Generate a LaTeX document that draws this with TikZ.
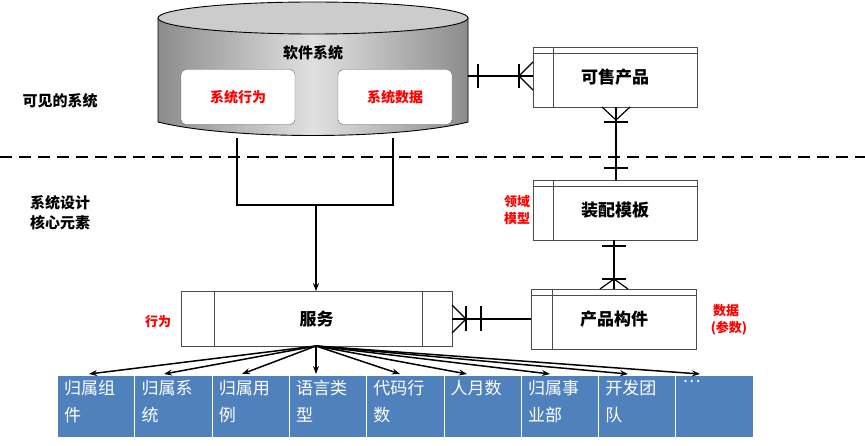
\documentclass[tikz,border=0pt]{standalone}
\usepackage{fontspec}
\setmainfont{Noto Sans CJK SC}
\newfontfamily\cjkb{Noto Sans CJK SC Black}
\usetikzlibrary{arrows.meta}
\definecolor{cb}{RGB}{79,129,189}
\begin{document}
\begin{tikzpicture}[x=1pt,y=-1pt,
  ent/.style={draw=black!70,line width=0.9pt,fill=white,minimum height=60pt,font=\cjkb\fontsize{17}{17}\selectfont},
  inner/.style={draw=black!60,rounded corners=5pt,fill=white,minimum width=114pt,minimum height=55pt,text=red,font=\cjkb\fontsize{14}{14}\selectfont},
  lab/.style={font=\cjkb\fontsize{15}{20}\selectfont,align=center},
  rlab/.style={text=red,font=\cjkb\fontsize{13}{17}\selectfont,align=center},
  cell/.style={fill=cb,draw=white,line width=0.6pt,minimum width=77.3pt,minimum height=62pt,anchor=north west,inner sep=0pt},
  ctext/.style={text=white,font=\fontsize{17}{27}\selectfont,align=left,anchor=north west,inner sep=0pt},
  rel/.style={line width=1.2pt},
  arr/.style={line width=1.5pt,-{Stealth[length=8pt]}}]
\useasboundingbox (0,0) rectangle (865,446);
% cylinder
\path[left color=black!45,right color=black!45,middle color=black!12,draw=black,line width=0.9pt]
 (158,18) -- (158,122) .. controls (230,140) and (396,140) .. (468,122) -- (468,18) -- cycle;
\draw[fill=black!20,line width=0.9pt] (313,18) ellipse[x radius=155,y radius=16];
\node[lab] (sys) at (313,53) {软件系统};
\node[inner] (beh) at (238,97) {系统行为};
\node[inner] (dat) at (395,97) {系统数据};
\coordinate (cyl) at (468,76);
% dashed line
\draw[dash pattern=on 12pt off 7pt,line width=2pt] (0,157) -- (865,157);
\node[lab] (v) at (60,101) {可见的系统};
\node[lab] (d) at (60,213) {系统设计\\核心元素};
% entities
\node[ent,minimum width=164pt] (sale) at (615,77) {可售产品};
\node[ent,minimum width=164pt] (tmpl) at (615,210) {装配模板};
\node[ent,minimum width=165pt] (comp) at (614,319) {产品构件};
\node[ent,minimum width=271pt,minimum height=55pt] (svc) at (316.5,319) {服务};
\foreach \n in {sale,tmpl,comp}{
 \draw[black!70,line width=0.8pt] ([yshift=-7pt]\n.north west) -- ([yshift=-7pt]\n.north east);
 \draw[black!70,line width=0.8pt] ([xshift=21pt]\n.north west) -- ([xshift=21pt]\n.south west);}
\draw[black!70,line width=0.8pt] ([xshift=34pt]svc.north west) -- ([xshift=34pt]svc.south west);
\draw[black!70,line width=0.8pt] ([xshift=-30pt]svc.north east) -- ([xshift=-30pt]svc.south east);
% relations
\draw[rel] (cyl) -- (sale.west|-cyl);
\draw[rel] (478,64) -- (478,88);
\draw[rel] (519,64) -- (519,88);
\draw[rel] (519,76) -- (533,62) (519,76) -- (533,90);
\draw[rel] (sale.south-|616,0) -- (tmpl.north-|616,0);
\draw[rel] (604,122) -- (628,122) (604,168) -- (628,168);
\draw[rel] (616,120) -- (602,107) (616,120) -- (630,107);
\draw[rel] (tmpl.south-|614,0) -- (comp.north-|614,0);
\draw[rel] (602,246) -- (626,246) (602,279) -- (626,279);
\draw[rel] (614,279) -- (600,289) (614,279) -- (628,289);
\draw[rel] (comp.west) -- (svc.east);
\draw[rel] (466,306) -- (466,331) (481,306) -- (481,331);
\draw[rel] (466,319) -- (452,305) (466,319) -- (452,333);
% cylinder to service
\coordinate (jn) at (316,205);
\draw[line width=1.2pt] (237,138) -- (237,205) -- (393,205) -- (393,138);
\draw[line width=1.2pt,-{Stealth[length=8pt]}] (jn) -- (svc.north-|jn);
% red labels
\node[rlab] (dm) at (517,210) {领域\\模型};
\node[rlab] (xw) at (158,322) {行为};
\node[rlab] (sj) at (726,320) {数据\\\ \ (参数)};
% cells
\foreach \i/\t in {0/{归属组\\件},1/{归属系\\统},2/{归属用\\例},3/{语言类\\型},4/{代码行\\数},5/{人月数},6/{归属事\\业部},7/{开发团\\队},8/{…}}{
  \node[cell] (c\i) at (57+77.3*\i,375) {};
  \node[ctext] (t\i) at (64+77.3*\i,380) {\t};
}
\coordinate (src) at (316,346);
\foreach \x in {89,164,242,316,400,467,550,628,700}
  \draw[arr] (src) -- (\x,374);
\end{tikzpicture}
\end{document}
